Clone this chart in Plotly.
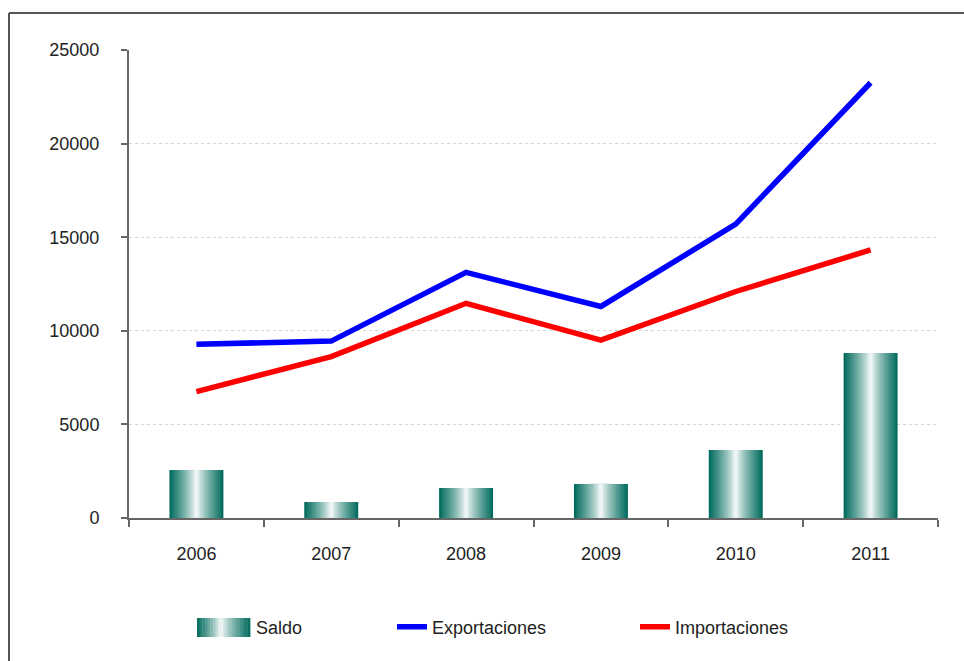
import plotly.graph_objects as go

years = ["2006", "2007", "2008", "2009", "2010", "2011"]
saldo = [2560, 850, 1600, 1820, 3630, 8810]
exportaciones = [9280, 9450, 13120, 11300, 15700, 23250]
importaciones = [6750, 8620, 11470, 9500, 12100, 14320]
y_ticks = [0, 5000, 10000, 15000, 20000, 25000]
y_tick_labels = ["0", "5000", "10000", "15000", "20000", "25000"]

W, H = 964, 661
L, T = 129, 50
R = W - 938
B = H - 518
pw, ph = W - L - R, H - T - B

dark = (0, 107, 92)
white = (255, 255, 255)
N = 14
bar_w = 0.4


def shade(f):
    f = max(0.0, min(1.0, f)) ** 0.8
    c = tuple(int(round(white[i] + (dark[i] - white[i]) * f)) for i in range(3))
    return "rgb(%d,%d,%d)" % c


fig = go.Figure()
for k in range(N):
    col = shade(1 - (k + 0.5) / N) if k else "rgb(%d,%d,%d)" % dark
    fig.add_trace(go.Bar(
        x=years, y=saldo, width=bar_w * (1 - k / N),
        marker=dict(color=col, line=dict(width=0)),
        name="Saldo", legendgroup="saldo", showlegend=False,
        hoverinfo="skip" if k else None,
    ))
# legend entry for Saldo (its gradient swatch is drawn below as shapes)
fig.add_trace(go.Bar(x=[None], y=[None], name="Saldo", legendgroup="saldo",
                     marker=dict(color="rgba(0,0,0,0)", line=dict(width=0)),
                     legend="legend", hoverinfo="skip"))

fig.add_trace(go.Scatter(x=years, y=exportaciones, mode="lines", name="Exportaciones",
                         line=dict(color="#0000ff", width=5.5), legend="legend2"))
fig.add_trace(go.Scatter(x=years, y=importaciones, mode="lines", name="Importaciones",
                         line=dict(color="#ff0000", width=5.5), legend="legend3"))

font = dict(family="Liberation Sans, Arial, sans-serif", size=18, color="#222222")


def px_x(page_x):
    return (page_x - L) / pw


def px_y(page_y):
    return (T + ph - page_y) / ph


leg_y = px_y(627)


def leg(text_x):
    return dict(orientation="h", x=px_x(text_x - 42), xanchor="left", y=leg_y,
                yanchor="middle", font=font, bgcolor="rgba(0,0,0,0)")


shapes = [
    dict(type="line", xref="paper", yref="paper", x0=px_x(9), x1=px_x(990),
         y0=px_y(13), y1=px_y(13), line=dict(color="#555555", width=2), layer="below"),
    dict(type="line", xref="paper", yref="paper", x0=px_x(9), x1=px_x(9),
         y0=px_y(13), y1=px_y(700), line=dict(color="#555555", width=2), layer="below"),
]
# gradient legend swatch for Saldo
sw_x0, sw_x1, sw_y0, sw_y1 = 197, 250, 618, 637
S = 20
for j in range(S):
    a = sw_x0 + (sw_x1 - sw_x0) * j / S
    b = sw_x0 + (sw_x1 - sw_x0) * (j + 1) / S
    mid = (j + 0.5) / S
    f = abs(mid - 0.45) / 0.55 if mid > 0.45 else abs(mid - 0.45) / 0.45
    shapes.append(dict(type="rect", xref="paper", yref="paper",
                       x0=px_x(a), x1=px_x(b) + 0.0005, y0=px_y(sw_y1), y1=px_y(sw_y0),
                       line=dict(width=0), fillcolor=shade(f), layer="above"))

fig.update_layout(
    width=W, height=H, barmode="overlay",
    margin=dict(l=L, r=R, t=T, b=B),
    plot_bgcolor="white", paper_bgcolor="white",
    font=font,
    legend=leg(258), legend2=leg(434), legend3=leg(677),
    xaxis=dict(type="category", showline=True, linecolor="#666666", linewidth=2,
               ticks="outside", tickson="boundaries", ticklen=7, tickcolor="#666666",
               tickwidth=2, showgrid=False, tickfont=font, ticklabelstandoff=18),
    yaxis=dict(range=[0, 25000], tickvals=y_ticks, ticktext=y_tick_labels,
               showline=True, linecolor="#666666",
               linewidth=2, ticks="outside", ticklen=6, tickcolor="#666666", tickwidth=2,
               showgrid=True, gridcolor="#d4d4d4", griddash="dot", gridwidth=1,
               zeroline=False, tickfont=font, ticklabelstandoff=18),
    shapes=shapes,
)

fig.write_html("out.html", config={"displayModeBar": False},
               post_script="document.body.style.margin='0';"
                           "document.body.style.overflow='hidden';")
